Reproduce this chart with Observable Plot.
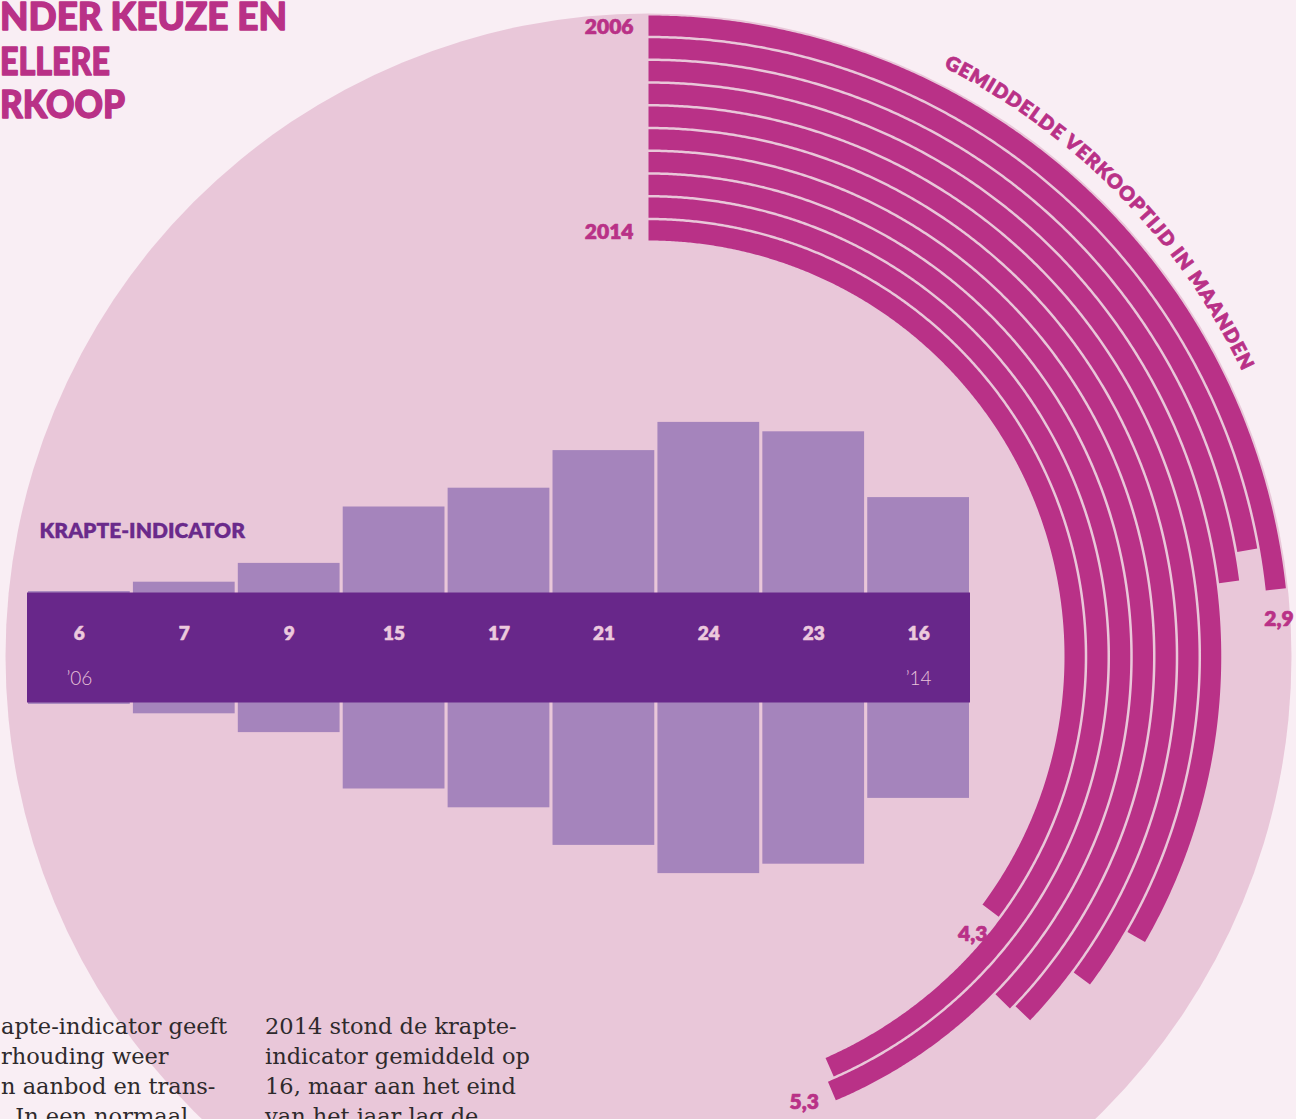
<!DOCTYPE html>
<html>
<head>
<meta charset="utf-8">
<script src="https://cdn.jsdelivr.net/npm/d3@7"></script>
<script src="https://cdn.jsdelivr.net/npm/@observablehq/plot@0.6"></script>
<style>
  html, body { margin: 0; padding: 0; background: #f9eef4; }
  #wrap { position: relative; width: 1296px; height: 1119px; overflow: hidden; background: #f9eef4; }
  #wrap > svg { position: absolute; left: 0; top: 0; }
</style>
</head>
<body>
<div id="wrap"></div>
<script>
// ---------------- data ----------------
const ringLabels = ["2006", "", "", "", "", "", "", "", "", "2014"];
const verkooptijd = [2.9, 2.77, 2.86, 4.08, 4.3, 4.53, 4.55, 5.3, 5.27, 4.3];
const verkooptijdLabelShown = [true, false, false, false, false, false, false, true, false, true];

const krapteJaren = ["2006", "2007", "2008", "2009", "2010", "2011", "2012", "2013", "2014"];
const krapteWaarden = [6, 7, 9, 15, 17, 21, 24, 23, 16];
const krapteJaarLabels = ["’06", "", "", "", "", "", "", "", "’14"];

const titleLines = ["NDER KEUZE EN", "ELLERE", "RKOOP"];
const col1Lines = ["apte-indicator geeft", "rhouding weer", "n aanbod en trans-", ". In een normaal"];
const col2Lines = ["2014 stond de krapte-", "indicator gemiddeld op", "16, maar aan het eind", "van het jaar lag de"];
const arcTitle = "GEMIDDELDE VERKOOPTIJD IN MAANDEN";
const krapteTitle = "KRAPTE-INDICATOR";

// ---------------- style ----------------
const W = 1296, H = 1119;
const CX = 648, CY = 656;
const magenta = "#b93187", circleBg = "#e9c7d9", darkPurple = "#68278a", lightPurple = "#a584bc";
const sans = "Lato, 'Noto Sans', sans-serif";
const serif = "'DejaVu Serif', serif";
const fmt = v => d3.format(".1f")(v).replace(".", ",");

// ---------------- radial chart ----------------
const ringIdx = ringLabels.map((_, i) => i);
const radius = d3.scaleBand().domain(ringIdx).range([641, 416]).paddingInner(0.11);
const bw = radius.bandwidth();
const angle = d3.scaleLinear().domain([0.15, 11.95]).range([0, 2 * Math.PI]);

const arcPts = [];
ringIdx.forEach(i => {
  const rIn = radius(i), rOut = rIn + bw;
  const a1 = angle(verkooptijd[i]);
  const n = Math.ceil(a1 / (0.25 * Math.PI / 180));
  for (let k = 0; k <= n; k++) { const a = a1 * k / n; arcPts.push({ring: i, x: rOut * Math.sin(a), y: rOut * Math.cos(a)}); }
  for (let k = n; k >= 0; k--) { const a = a1 * k / n; arcPts.push({ring: i, x: rIn * Math.sin(a), y: rIn * Math.cos(a)}); }
});

const valueLabelData = ringIdx.filter(i => verkooptijdLabelShown[i]).map(i => {
  const rm = radius(i) + bw / 2, a = angle(verkooptijd[i]), off = 30;
  return {x: rm * Math.sin(a) + off * Math.cos(a), y: rm * Math.cos(a) - off * Math.sin(a), text: fmt(verkooptijd[i])};
});

const yearLabelData = ringIdx.filter(i => ringLabels[i]).map(i => ({y: radius(i) + bw / 2, text: ringLabels[i]}));

const radial = Plot.plot({
  width: W, height: H, margin: 0,
  x: {domain: [-CX, W - CX], range: [0, W], axis: null},
  y: {domain: [-(H - CY), CY], range: [H, 0], axis: null},
  style: {background: "transparent", overflow: "visible"},
  marks: [
    Plot.dot([{x: 0, y: 0}], {x: "x", y: "y", r: 643, fill: circleBg, stroke: "none"}),
    Plot.line(arcPts, {x: "x", y: "y", z: "ring", fill: magenta, stroke: "none", curve: "linear"}),
    Plot.text(yearLabelData, {x: 0, y: "y", dx: -15, dy: 2, text: "text", textAnchor: "end",
      fill: magenta, stroke: magenta, strokeWidth: 0.6, fontFamily: sans, fontWeight: 800, fontSize: 21, ariaLabel: "jaarlabels"}),
    Plot.text(valueLabelData, {x: "x", y: "y", text: "text", fill: magenta, stroke: magenta, strokeWidth: 0.6,
      fontFamily: sans, fontWeight: 800, fontSize: 21, ariaLabel: "waardelabels"})
  ]
});

{
  const s = d3.select(radial);
  s.selectAll('g[aria-label="jaarlabels"] text').attr("textLength", 53).attr("lengthAdjust", "spacingAndGlyphs");
  s.selectAll('g[aria-label="waardelabels"] text').attr("textLength", 33).attr("lengthAdjust", "spacingAndGlyphs");
  const cx = radial.scale("x").apply(0), cy = radial.scale("y").apply(0);
  const rT = 659;
  s.append("path").attr("id", "arcTitlePath").attr("fill", "none")
    .attr("d", `M${cx},${cy - rT} A${rT},${rT} 0 0 1 ${cx + rT},${cy}`);
  s.append("text")
    .attr("font-family", sans).attr("font-weight", 800).attr("font-size", 19.5)
    .attr("fill", magenta).attr("stroke", magenta).attr("stroke-width", 0.7)
    .append("textPath").attr("href", "#arcTitlePath")
    .attr("startOffset", rT * 45.5 * Math.PI / 180).attr("text-anchor", "middle")
    .attr("textLength", 434).attr("lengthAdjust", "spacing")
    .text(arcTitle);
}

// ---------------- krapte bar chart ----------------
const kData = krapteJaren.map((j, i) => ({jaar: j, waarde: krapteWaarden[i], label: krapteJaarLabels[i]}));
const K = 9.4, YC = 647.5;
const bars = Plot.plot({
  width: W, height: H, marginLeft: 27, marginRight: W - 970, marginTop: 0, marginBottom: 0,
  x: {domain: krapteJaren, range: [28, 969], paddingInner: 0.03, paddingOuter: 0, round: false, axis: null},
  y: {domain: [-30, 30], range: [YC + 30 * K, YC - 30 * K], axis: null},
  style: {background: "transparent", overflow: "visible"},
  marks: [
    Plot.barY(kData, {x: "jaar", y1: d => -d.waarde, y2: d => d.waarde, fill: lightPurple}),
    Plot.barY([0], {y1: -5.85, y2: 5.85, fill: darkPurple}),
    Plot.text(kData, {x: "jaar", y: 0, dy: -14, text: d => String(d.waarde), fill: "#ecc9dd",
      stroke: "#ecc9dd", strokeWidth: 0.5, fontFamily: sans, fontWeight: 800, fontSize: 19}),
    Plot.text(kData.filter(d => d.label), {x: "jaar", y: 0, dy: 31, text: "label", fill: "#e9c4da",
      fontFamily: sans, fontWeight: 300, fontSize: 19}),
    Plot.text([krapteTitle], {frameAnchor: "left", text: d => d, dx: 12, dy: -28.5, textAnchor: "start",
      fill: "#6a2a8b", stroke: "#6a2a8b", strokeWidth: 0.3, fontFamily: sans, fontWeight: 800, fontSize: 21, ariaLabel: "kraptetitel"})
  ]
});
d3.select(bars).selectAll('g[aria-label="kraptetitel"] text').attr("textLength", 202).attr("lengthAdjust", "spacingAndGlyphs");

// ---------------- annotation layer ----------------
const ann = d3.create("svg").attr("width", W).attr("height", H).attr("viewBox", `0 0 ${W} ${H}`);
const titleBase = [30, 75, 118], titleLen = [287, 110, 125];
titleLines.forEach((t, i) => {
  ann.append("text").attr("x", 0).attr("y", titleBase[i])
    .attr("font-family", sans).attr("font-weight", 900).attr("font-size", 38)
    .attr("fill", magenta).attr("stroke", magenta).attr("stroke-width", 1.4).attr("stroke-linejoin", "round")
    .attr("textLength", titleLen[i]).attr("lengthAdjust", "spacingAndGlyphs").text(t);
});
const para = (lines, x0) => lines.forEach((t, i) => {
  ann.append("text").attr("x", x0).attr("y", 1034 + i * 30)
    .attr("font-family", serif).attr("font-size", 22.5).attr("fill", "#2e2a2c").text(t);
});
para(col1Lines, 1);
para(col2Lines, 265);

const wrap = document.getElementById("wrap");
wrap.append(radial);
wrap.append(bars);
wrap.append(ann.node());
</script>
</body>
</html>
